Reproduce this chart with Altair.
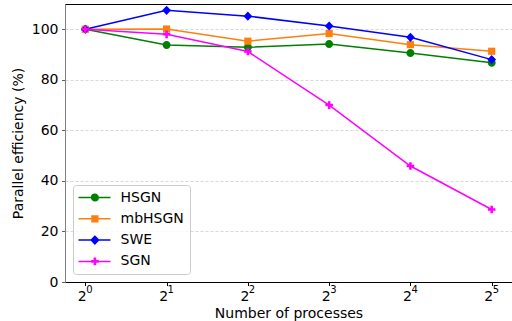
import math
import altair as alt
import pandas as pd

# ---- data ----
processes = [1, 2, 4, 8, 16, 32]
series_names = ["HSGN", "mbHSGN", "SWE", "SGN"]
hsgn = [100.0, 93.8, 92.9, 94.2, 90.6, 86.8]
mbhsgn = [100.0, 100.1, 95.3, 98.3, 93.9, 91.3]
swe = [100.0, 107.5, 105.2, 101.3, 96.8, 88.0]
sgn = [100.0, 98.0, 91.2, 70.0, 45.9, 28.7]
y_ticks = [0, 20, 40, 60, 80, 100]

colors = ["#008000", "#ff7f0e", "#0000ff", "#ff00ff"]

rows = []
for name, vals in zip(series_names, [hsgn, mbhsgn, swe, sgn]):
    for p, v in zip(processes, vals):
        rows.append({"processes": p, "efficiency": v, "series": name})
df = pd.DataFrame(rows)

exp_df = pd.DataFrame({"processes": processes,
                       "exponent": [str(int(round(math.log2(p)))) for p in processes]})


# ---- marker paths (unit = sqrt(size)/2 px) ----
def circle(cx, r):
    return f"M{cx - r},0A{r},{r} 0 1,0 {cx + r},0A{r},{r} 0 1,0 {cx - r},0Z"


def square(cx, h):
    return f"M{cx - h},{-h}L{cx + h},{-h}L{cx + h},{h}L{cx - h},{h}Z"


def diamond(cx, w, h):
    return f"M{cx},{-h}L{cx + w},0L{cx},{h}L{cx - w},0Z"


def plus(cx, h, t):
    pts = [(-t, -h), (t, -h), (t, -t), (h, -t), (h, t), (t, t), (t, h),
           (-t, h), (-t, t), (-h, t), (-h, -t), (-t, -t)]
    return "M" + "L".join(f"{cx + a},{b}" for a, b in pts) + "Z"


def markers(cx):
    return [circle(cx, 1.0), square(cx, 0.9), diamond(cx, 1.1, 1.15), plus(cx, 0.95, 0.32)]


def solid_markers(cx):
    """Stroke-only versions that look filled (for the legend)."""
    c = "".join(circle(cx, r) for r in (0.82, 0.55, 0.28, 0.05))
    s = "".join(square(cx, h) for h in (0.72, 0.45, 0.18, 0.02))
    d = "".join(diamond(cx, 0.92 * k, 0.97 * k) for k in (1.0, 0.68, 0.36, 0.06))
    p = plus(cx, 0.77, 0.14) + "".join(
        f"M{cx - 0.77},{o}L{cx + 0.77},{o}M{cx + o},-0.77L{cx + o},0.77" for o in (-0.1, 0, 0.1))
    return [c, s, d, p]


marker_paths = markers(0)
legend_paths = ["M-1.75,0L6.25,0" + p for p in solid_markers(2.35)]

FONT = "DejaVu Sans"
W, H = 447, 278

x_scale = alt.Scale(type="log", base=2, domain=[2 ** -0.25, 2 ** 5.25], nice=False)
x_enc = alt.X(
    "processes:Q",
    scale=x_scale,
    axis=alt.Axis(
        values=processes,
        labelExpr="'2'",
        labelOffset=-3.5,
        title="Number of processes",
        grid=False,
        domainColor="black",
        tickColor="black",
        tickSize=3.5,
        labelPadding=3.5,
        labelFlush=False,
        labelOverlap=False,
        labelFontSize=14,
        labelFont=FONT,
        labelColor="black",
        titleFontSize=14,
        titleFont=FONT,
        titleFontWeight="normal",
        titleColor="black",
        titlePadding=3,
    ),
)
y_enc = alt.Y(
    "efficiency:Q",
    scale=alt.Scale(domain=[0, 110], nice=False, zero=True),
    axis=alt.Axis(
        values=y_ticks,
        title="Parallel efficiency (%)",
        grid=True,
        gridDash=[3, 2],
        gridColor="#cfcfcf",
        gridWidth=0.8,
        domainColor="#808080",
        tickColor="#606060",
        tickSize=3.5,
        labelPadding=3.5,
        labelFontSize=14,
        labelFont=FONT,
        labelColor="black",
        titleFontSize=14,
        titleFont=FONT,
        titleFontWeight="normal",
        titleColor="black",
        titlePadding=6,
    ),
)

series_layers = []
for name, col, path in zip(series_names, colors, marker_paths):
    base = alt.Chart(df).transform_filter(alt.datum.series == name)
    series_layers.append(
        base.mark_line(strokeWidth=1.5, color=col).encode(x=x_enc, y=y_enc)
    )
    series_layers.append(
        base.mark_point(filled=True, size=64, opacity=1, shape=path, color=col)
        .encode(x=x_enc, y=y_enc)
    )

legend = alt.Legend(
    title=None,
    orient="bottom-left",
    offset=8,
    padding=5.5,
    rowPadding=7.3,
    symbolSize=64,
    symbolStrokeWidth=1.5,
    symbolFillColor="transparent",
    symbolOpacity=1,
    labelFontSize=14,
    labelFont=FONT,
    labelColor="black",
    labelOffset=28,
    strokeColor="#cccccc",
    fillColor="rgba(255,255,255,0.8)",
    cornerRadius=3,
)

legend_layer = alt.Chart(df).transform_filter("false").mark_point(
    filled=False, size=64, strokeWidth=1.5, opacity=1
).encode(
    x=x_enc,
    y=y_enc,
    color=alt.Color("series:N", scale=alt.Scale(domain=series_names, range=colors), legend=legend),
    shape=alt.Shape("series:N", scale=alt.Scale(domain=series_names, range=legend_paths), legend=legend),
)

exponents = alt.Chart(exp_df).mark_text(
    font=FONT, fontSize=10, align="left", baseline="alphabetic", dx=1, color="black"
).encode(
    x=x_enc,
    y=alt.value(H + 10.7),
    text="exponent:N",
)

chart = (
    alt.layer(*series_layers, legend_layer, exponents)
    .properties(
        width=W,
        height=H,
        autosize=alt.AutoSizeParams(type="none"),
        padding={"left": 65, "top": 4, "right": 0, "bottom": 39},
    )
    .configure(font=FONT, background="white")
    .configure_view(stroke="black", strokeWidth=1)
)

chart.save("out.html", embed_options={"renderer": "svg", "actions": False})
